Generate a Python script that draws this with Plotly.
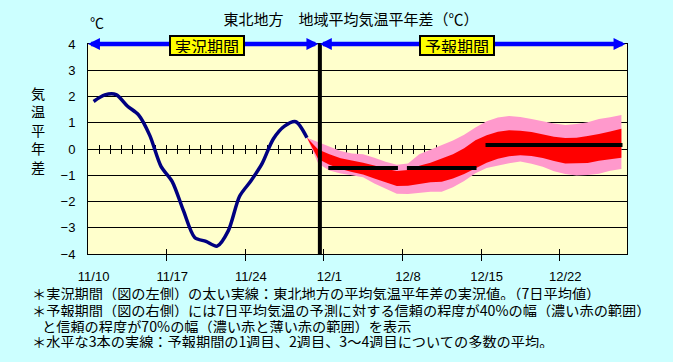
import plotly.graph_objects as go

# ---------------- data ----------------
# observed 7-day mean anomaly (one value per day, 11/10 .. 11/29)
obs_days = [0.5 + i for i in range(20)]
obs_vals = [1.81, 2.06, 2.07, 1.64, 1.30, 0.52, -0.66, -1.24, -2.35, -3.37,
            -3.52, -3.70, -3.11, -1.80, -1.22, -0.56, 0.38, 0.87, 1.04, 0.43]

# forecast bands (11/29 .. 12/27)
fc_days = [19.5 + i for i in range(29)]
p_hi = [0.43, 0.25, 0.08, -0.08, -0.17, -0.20, -0.33, -0.49, -0.60, -0.55,
        -0.20, -0.02, 0.15, 0.32, 0.54, 0.82, 1.06, 1.20, 1.26, 1.22,
        1.14, 1.05, 0.97, 0.91, 0.95, 1.02, 1.14, 1.21, 1.30]
p_lo = [0.43, -0.55, -0.82, -0.93, -1.00, -1.08, -1.31, -1.52, -1.70, -1.71,
        -1.66, -1.63, -1.63, -1.46, -1.22, -0.92, -0.72, -0.63, -0.54, -0.48,
        -0.56, -0.68, -0.85, -0.95, -1.01, -0.99, -0.94, -0.83, -0.76]
r_hi = [0.43, -0.02, -0.20, -0.35, -0.44, -0.52, -0.63, -0.75, -0.84, -0.80,
        -0.64, -0.52, -0.36, -0.20, 0.03, 0.33, 0.52, 0.66, 0.71, 0.70,
        0.65, 0.55, 0.47, 0.42, 0.43, 0.50, 0.57, 0.67, 0.77]
r_lo = [0.43, -0.38, -0.60, -0.76, -0.88, -0.97, -1.12, -1.26, -1.41, -1.40,
        -1.34, -1.27, -1.25, -1.12, -0.95, -0.73, -0.52, -0.37, -0.28, -0.24,
        -0.27, -0.34, -0.46, -0.55, -0.55, -0.53, -0.45, -0.40, -0.33]

# ensemble means: week1, week2, weeks3-4 (first day index, last day index, value)
mean_start = [21, 28, 35]
mean_end = [27, 34, 47]
mean_vals = [-0.72, -0.72, 0.15]

forecast_start = 20.65
x_max = 48

tick_pos = [0.5, 7.5, 14.5, 21.5, 28.5, 35.5, 42.5]
tick_text = ["11/10", "11/17", "11/24", "12/1", "12/8", "12/15", "12/22"]
week_ticks = [7, 14, 21, 28, 35, 42]
day_ticks = list(range(1, 48))
y_ticks = [-4, -3, -2, -1, 0, 1, 2, 3, 4]

# ---------------- layout helpers ----------------
W, H = 673, 362
L, R, T, B = 88, 46, 44, 108
PW, PH = W - L - R, H - T - B
CJK = "Noto Sans CJK JP"
NUM = "Liberation Sans"


def px(xp):
    return (xp - L) / PW


def py(yp):
    return (H - B - yp) / PH


fig = go.Figure()

fig.add_trace(go.Scatter(x=fc_days, y=p_lo, mode="lines", line=dict(width=0, color="#FF99CC"),
                         showlegend=False, hoverinfo="skip"))
fig.add_trace(go.Scatter(x=fc_days, y=p_hi, mode="lines", line=dict(width=0, color="#FF99CC"),
                         fill="tonexty", fillcolor="#FF99CC", showlegend=False, hoverinfo="skip"))
fig.add_trace(go.Scatter(x=fc_days, y=r_lo, mode="lines", line=dict(width=0, color="#FF0000"),
                         showlegend=False, hoverinfo="skip"))
fig.add_trace(go.Scatter(x=fc_days, y=r_hi, mode="lines", line=dict(width=0, color="#FF0000"),
                         fill="tonexty", fillcolor="#FF0000", showlegend=False, hoverinfo="skip"))
fig.add_trace(go.Scatter(x=obs_days, y=obs_vals, mode="lines",
                         line=dict(color="#000080", width=3.5, shape="spline", smoothing=0.8),
                         showlegend=False, hoverinfo="skip"))
for s, e, v in zip(mean_start, mean_end, mean_vals):
    fig.add_trace(go.Scatter(x=[s + 0.4, e + 0.6], y=[v, v], mode="lines",
                             line=dict(color="black", width=4), showlegend=False, hoverinfo="skip"))

# dummy traces for tick-only overlay axes
for ax in ["x2", "x3", "x4", "x5"]:
    fig.add_trace(go.Scatter(x=[None], y=[None], xaxis=ax, yaxis="y", mode="none",
                             showlegend=False, hoverinfo="skip"))

common_overlay = dict(overlaying="x", anchor="free", range=[0, x_max], showticklabels=False,
                      showgrid=False, zeroline=False, showline=False, tickcolor="black",
                      tickwidth=1, fixedrange=True, automargin=False)

fig.update_layout(
    width=W, height=H,
    margin=dict(l=L, r=R, t=T, b=B, autoexpand=False),
    paper_bgcolor="#CCFFFF",
    plot_bgcolor="#FFFFCC",
    showlegend=False,
    title=dict(text="東北地方　地域平均気温平年差（℃）", x=351 / W, xanchor="center",
               y=1 - 20 / H, yanchor="middle", yref="container", automargin=False,
               font=dict(family=CJK, size=15, color="black")),
    xaxis=dict(range=[0, x_max], tickvals=tick_pos, ticktext=tick_text, ticks="",
               showline=True, mirror=True, linecolor="black", linewidth=1,
               showgrid=False, zeroline=False, ticklabelstandoff=10, automargin=False,
               tickfont=dict(family=NUM, size=13, color="black"), fixedrange=True),
    yaxis=dict(range=[-4, 4], tickvals=y_ticks, ticks="", showline=True, mirror=True,
               linecolor="black", linewidth=1, showgrid=True, gridcolor="black", gridwidth=1,
               zeroline=True, zerolinecolor="black", zerolinewidth=1, ticklabelstandoff=9,
               automargin=False,
               tickfont=dict(family=NUM, size=13, color="black"), fixedrange=True),
    xaxis2=dict(position=0, tickvals=week_ticks, ticks="outside", ticklen=6, **common_overlay),
    xaxis3=dict(position=0, tickvals=week_ticks, ticks="inside", ticklen=5, **common_overlay),
    xaxis4=dict(position=0.5, tickvals=day_ticks, ticks="outside", ticklen=4,
                layer="below traces", **common_overlay),
    xaxis5=dict(position=0.5, tickvals=day_ticks, ticks="inside", ticklen=4,
                layer="below traces", **common_overlay),
)

# boundary between observation and forecast
fig.add_shape(type="line", xref="x", yref="y", x0=forecast_start, x1=forecast_start,
              y0=-4, y1=4, line=dict(color="black", width=4), layer="above")

# period arrows
for x0, x1 in [(0, forecast_start), (forecast_start, x_max)]:
    fig.add_annotation(x=x0, y=4, ax=x1, ay=4, xref="x", yref="y", axref="x", ayref="y",
                       text="", showarrow=True, arrowside="end+start",
                       arrowhead=2, startarrowhead=2, arrowsize=0.53, startarrowsize=0.53,
                       arrowwidth=4.5, arrowcolor="#0000FF", standoff=0, startstandoff=0)

# period labels
for label, xc in [("実況期間", 207), ("予報期間", 457)]:
    fig.add_annotation(x=px(xc), y=py(45.5), xref="paper", yref="paper", text=label,
                       showarrow=False, xanchor="center", yanchor="middle",
                       font=dict(family=CJK, size=16, color="black"),
                       bgcolor="#FFFF00", bordercolor="black", borderwidth=2, borderpad=1,
                       width=70, height=15)

# unit and axis title
fig.add_annotation(x=px(97), y=py(22), xref="paper", yref="paper", text="℃", showarrow=False,
                   xanchor="center", yanchor="middle", font=dict(family=CJK, size=14, color="black"))
fig.add_annotation(x=px(38), y=py(130), xref="paper", yref="paper",
                   text="気<br>温<br>平<br>年<br>差", showarrow=False,
                   xanchor="center", yanchor="middle", font=dict(family=CJK, size=14.2, color="black"))

# notes
notes = [
    ("＊実況期間（図の左側）の太い実線：東北地方の平均気温平年差の実況値。（7日平均値）", 30, 292.7),
    ("＊予報期間（図の右側）には7日平均気温の予測に対する信頼の程度が40%の幅（濃い赤の範囲）", 30, 309),
    ("と信頼の程度が70%の幅（濃い赤と薄い赤の範囲）を表示", 40, 325),
    ("＊水平な3本の実線：予報期間の1週目、2週目、3～4週目についての多数の平均。", 30, 340.7),
]
for txt, xl, yc in notes:
    fig.add_annotation(x=px(xl), y=py(yc), xref="paper", yref="paper", text=txt, showarrow=False,
                       xanchor="left", yanchor="middle", height=15,
                       font=dict(family=CJK, size=14.2, color="black"))

fig.write_html("out.html", config={"displayModeBar": False},
               post_script="document.body.style.margin='0';")
